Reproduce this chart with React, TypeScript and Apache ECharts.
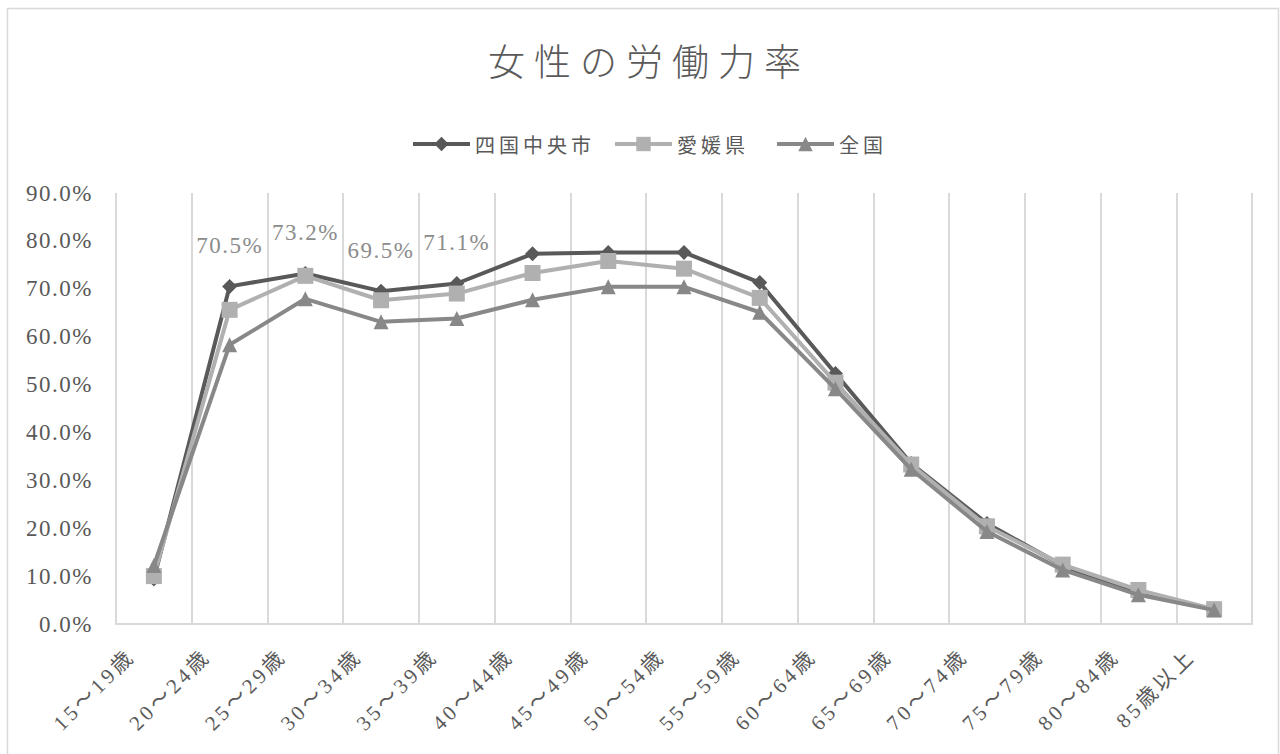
import React, { useEffect, useRef } from "react";
import * as echarts from "echarts";

const titleText = "女性の労働力率";
const categories = [
  "15～19歳", "20～24歳", "25～29歳", "30～34歳", "35～39歳",
  "40～44歳", "45～49歳", "50～54歳", "55～59歳", "60～64歳",
  "65～69歳", "70～74歳", "75～79歳", "80～84歳", "85歳以上",
];
const seriesNames = ["四国中央市", "愛媛県", "全国"];
const shikokuchuo = [9.4, 70.5, 73.2, 69.5, 71.1, 77.3, 77.6, 77.6, 71.3, 52.3, 33.5, 21.0, 12.2, 6.4, 3.1];
const ehime = [10.0, 65.6, 72.7, 67.6, 69.0, 73.3, 75.8, 74.2, 68.1, 50.4, 33.3, 20.4, 12.4, 7.1, 3.1];
const zenkoku = [12.2, 58.3, 67.9, 63.1, 63.8, 67.7, 70.4, 70.4, 65.1, 49.1, 32.3, 19.3, 11.3, 6.1, 2.9];
const labeledIdx = [1, 2, 3, 4];
const yTicks = { min: 0, max: 90, interval: 10 };

const serif = "'Liberation Serif', 'Noto Sans CJK JP', serif";
const cjk = "'Noto Sans CJK JP', sans-serif";

export default function App() {
  const ref = useRef<HTMLDivElement>(null);
  useEffect(() => {
    if (!ref.current) return;
    const chart = echarts.init(ref.current, undefined, { renderer: "svg" });
    const colors = ["#595959", "#b0b0b0", "#888888"];
    chart.setOption({
      animation: false,
      backgroundColor: "#ffffff",
      color: colors,
      title: {
        text: titleText,
        left: 483,
        top: 36,
        textStyle: { fontFamily: cjk, fontSize: 37, fontWeight: 300, color: "#5a5a5a" },
      },
      graphic: [
        {
          type: "rect",
          shape: { x: 7.5, y: 8.5, width: 1271, height: 780 },
          style: { fill: "none", stroke: "#d9d9d9", lineWidth: 1.5 },
          silent: true,
        },
      ],
      legend: {
        top: 129,
        left: 406,
        itemWidth: 57,
        itemHeight: 18,
        itemGap: 38,
        lineStyle: { width: 4 },
        textStyle: { fontFamily: cjk, fontSize: 20, color: "#595959" },
        data: seriesNames,
      },
      grid: { left: 116, right: 28, top: 193, bottom: 130, containLabel: false },
      xAxis: {
        type: "category",
        data: categories,
        boundaryGap: true,
        axisLine: { lineStyle: { color: "#d9d9d9", width: 2 } },
        axisTick: { show: false },
        splitLine: { show: true, interval: 0, lineStyle: { color: "#d9d9d9", width: 2 } },
        axisLabel: {
          interval: 0,
          rotate: 45,
          margin: 6,
          padding: [0, 32, 0, 0],
          fontFamily: serif,
          fontSize: 21,
          color: "#595959",
        },
      },
      yAxis: {
        type: "value",
        min: yTicks.min,
        max: yTicks.max,
        interval: yTicks.interval,
        axisLine: { show: false },
        axisTick: { show: false },
        splitLine: { show: false },
        axisLabel: {
          margin: 23,
          fontFamily: serif,
          fontSize: 23,
          color: "#595959",
          formatter: (v: number) => v.toFixed(1) + "%",
        },
      },
      series: [
        {
          name: seriesNames[0],
          type: "line",
          data: shikokuchuo.map((v, i) =>
            labeledIdx.includes(i)
              ? {
                  value: v,
                  label: {
                    show: true,
                    position: "top",
                    distance: 22,
                    formatter: v.toFixed(1) + "%",
                    fontFamily: serif,
                    fontSize: 23,
                    color: "#8c8c8c",
                  },
                }
              : v
          ),
          symbol: "diamond",
          symbolSize: 15,
          lineStyle: { width: 4, color: colors[0] },
          itemStyle: { color: colors[0] },
          z: 3,
        },
        {
          name: seriesNames[1],
          type: "line",
          data: ehime,
          symbol: "rect",
          symbolSize: 16,
          lineStyle: { width: 4, color: colors[1] },
          itemStyle: { color: colors[1] },
          z: 4,
        },
        {
          name: seriesNames[2],
          type: "line",
          data: zenkoku,
          symbol: "triangle",
          symbolSize: 15,
          lineStyle: { width: 4, color: colors[2] },
          itemStyle: { color: colors[2] },
          z: 5,
        },
      ],
    });
    // Excel-like character spacing
    const texts = ref.current.querySelectorAll("text");
    texts.forEach((el) => {
      const t = el.textContent || "";
      let sp = 0;
      if (t === titleText) sp = 9;
      else if (categories.includes(t)) sp = 3.5;
      else if (seriesNames.includes(t)) sp = 4;
      else if (/%$/.test(t)) sp = 1.5;
      if (sp) (el as SVGTextElement).style.letterSpacing = sp + "px";
    });
    return () => chart.dispose();
  }, []);
  return (
    <div
      ref={ref}
      style={{ position: "absolute", left: 0, top: 0, width: 1280, height: 754 }}
    />
  );
}
